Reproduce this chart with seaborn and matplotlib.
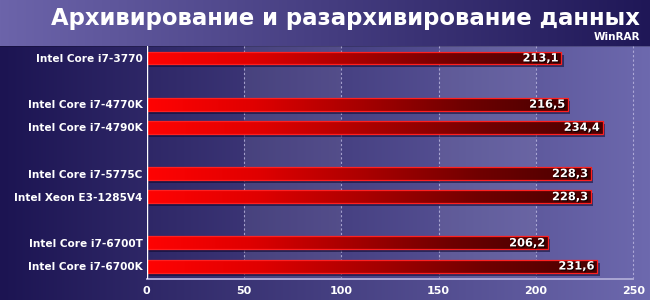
import numpy as np
import matplotlib
matplotlib.use("Agg")
import matplotlib.pyplot as plt
import seaborn as sns
import pandas as pd
from matplotlib.colors import LinearSegmentedColormap, to_rgb
from matplotlib.patches import Rectangle
import matplotlib.patheffects as pe

# ---------------- data ----------------
cpus = ["Intel Core i7-3770", "Intel Core i7-4770K", "Intel Core i7-4790K",
        "Intel Core i7-5775C", "Intel Xeon E3-1285V4",
        "Intel Core i7-6700T", "Intel Core i7-6700K"]
values = [213.1, 216.5, 234.4, 228.3, 228.3, 206.2, 231.6]
order = ["Intel Core i7-3770", "_gap1", "Intel Core i7-4770K", "Intel Core i7-4790K",
         "_gap2", "Intel Core i7-5775C", "Intel Xeon E3-1285V4",
         "_gap3", "Intel Core i7-6700T", "Intel Core i7-6700K"]
xticks = [0, 50, 100, 150, 200, 250]
title = "Архивирование и разархивирование данных"
subtitle = "WinRAR"

df = pd.DataFrame({"cpu": cpus, "value": values})

sns.set_theme(style="white")
plt.rcParams["font.family"] = ["DejaVu Sans"]

W, H = 650, 300
fig = plt.figure(figsize=(6.5, 3.0), dpi=100)

# ---------------- background ----------------
bg = np.zeros((H, W, 3))
xs = np.linspace(0, 1, W)[None, :, None]
top_l, top_r = np.array(to_rgb("#6c64aa")), np.array(to_rgb("#1f1757"))
low_l, low_r = np.array(to_rgb("#1c1452")), np.array(to_rgb("#6d69ae"))
band = 46
bg[:band] = top_l + (top_r - top_l) * xs
bg[band:] = low_l + (low_r - low_l) * xs
bg[band:band + 1] *= 0.8
bax = fig.add_axes([0, 0, 1, 1], zorder=-10)
bax.imshow(bg, aspect="auto", extent=(0, 1, 0, 1), origin="upper")
bax.axis("off")

# ---------------- main axes ----------------
left = 146.7 / W
x250 = 633.3 / W
ax = fig.add_axes([left, 1 - 279 / H, 1 - left, (279 - 46) / H])
ax.set_facecolor("none")
xmax = 250 * (1 - left) / (x250 - left)

sns.barplot(data=df, y="cpu", x="value", order=order, orient="h",
            width=0.56, ax=ax, color="red", saturation=1)
bars = [p for p in ax.patches if np.isfinite(p.get_width()) and p.get_width() > 0]

ax.set_xlim(0, xmax)
ax.set_ylim(9.56, -0.52)

# alternating bands
for a, b in [(50, 100), (150, 200)]:
    ax.axvspan(a, b, color="white", alpha=0.07, lw=0, zorder=0)
# dotted grid
for xv in xticks[1:]:
    ax.axvline(xv, color="#c4c0e6", lw=0.8, ls=(0, (2, 2)), alpha=0.75, zorder=0.5)
ax.axvline(0, color="white", lw=1.0, zorder=5)

bar_cmap = LinearSegmentedColormap.from_list(
    "bar", ["#ff0303", "#e00000", "#a80000", "#700000", "#480000"])
grad = np.linspace(0, 1, 256)[None, :]

for p in bars:
    w = p.get_width()
    y0 = p.get_y()
    h = p.get_height()
    sh = Rectangle((1.2, y0 + 0.13), w, h, facecolor="#0c0830", alpha=0.55,
                   lw=0, zorder=1)
    ax.add_patch(sh)
    p.set_zorder(2)
    p.set_facecolor("none")
    p.set_edgecolor("#ff2020")
    p.set_linewidth(0.9)
    im = ax.imshow(grad, cmap=bar_cmap, aspect="auto",
                   extent=(0, w, y0 + h, y0), zorder=1.5, interpolation="bilinear")
    im.set_clip_path(p)
    txt = ax.text(w - 1.5, y0 + h / 2 + 0.02, f"{w:.1f}".replace(".", ","),
                  ha="right", va="center", color="white", fontsize=8.2,
                  fontweight="bold", zorder=6)
    txt.set_path_effects([pe.withSimplePatchShadow(offset=(0.8, -0.8),
                                                   shadow_rgbFace="black", alpha=0.8)])

# y tick labels
ax.set_yticks(range(len(order)))
ax.set_yticklabels(["" if o.startswith("_") else o for o in order])
ax.tick_params(axis="y", length=0, pad=3, colors="white")
for t in ax.get_yticklabels():
    t.set_fontweight("bold")
    t.set_fontsize(7.6)
    t.set_color("white")

# x axis
ax.set_xticks(xticks)
ax.set_xticklabels([str(v) for v in xticks])
ax.set_xticks(np.arange(0, 251, 10), minor=True)
ax.tick_params(axis="x", which="major", length=3, width=1, color="#aaa6d4",
               labelcolor="white", pad=2, direction="out")
ax.tick_params(axis="x", which="minor", length=2, width=0.8, color="#aaa6d4",
               direction="out")
for t in ax.get_xticklabels():
    t.set_fontweight("bold")
    t.set_fontsize(8)
ax.set_xlabel("")
ax.set_ylabel("")
for s in ["top", "right", "left"]:
    ax.spines[s].set_visible(False)
ax.spines["bottom"].set_color("#aaa6d4")
ax.spines["bottom"].set_linewidth(1.4)
ax.spines["bottom"].set_bounds(0, 250)

# titles
fig.text(640 / W, 1 - 25 / H, title, ha="right", va="baseline", color="white",
         fontsize=16.4, fontweight="bold")
fig.text(640 / W, 1 - 40 / H, subtitle, ha="right", va="baseline", color="white",
         fontsize=7.5, fontweight="bold")

fig.savefig("out.png", dpi=100)
